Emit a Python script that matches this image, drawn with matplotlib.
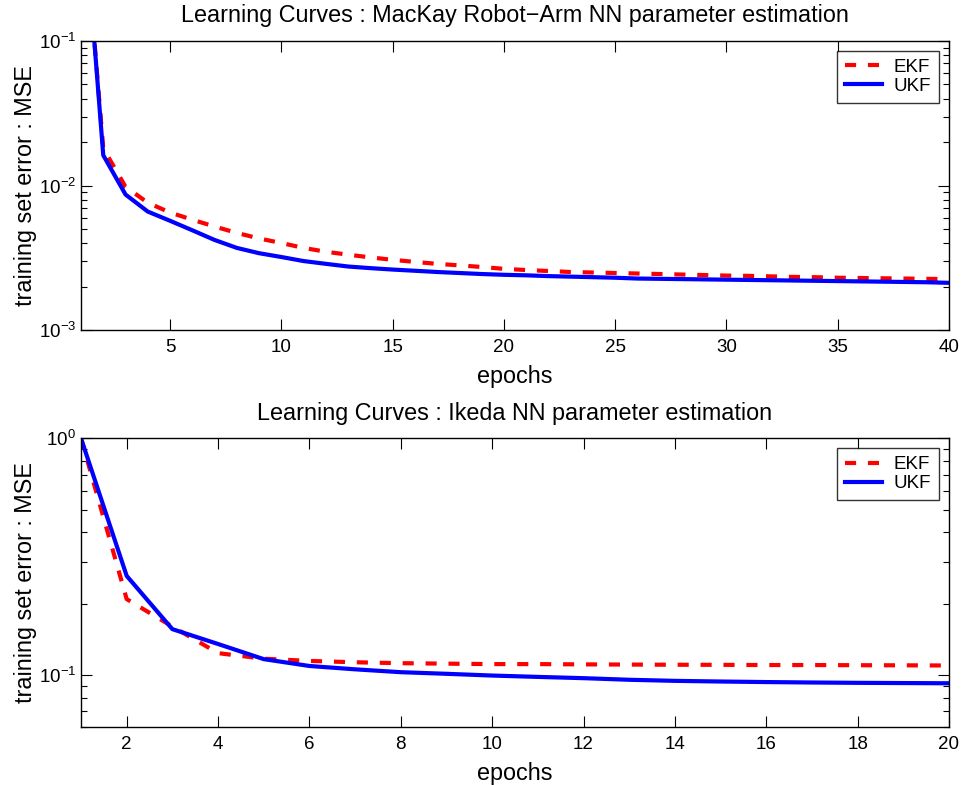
import matplotlib
matplotlib.use("Agg")
import matplotlib.pyplot as plt
from matplotlib.ticker import LogLocator, FixedLocator, NullFormatter

plt.rcParams['font.family'] = ['Liberation Sans', 'DejaVu Sans']
plt.rcParams['mathtext.fontset'] = 'custom'
plt.rcParams['mathtext.rm'] = 'Liberation Sans'
plt.rcParams['mathtext.it'] = 'Liberation Sans'
plt.rcParams['lines.scale_dashes'] = False

# MacKay robot-arm: training set MSE per epoch
epochs_arm = list(range(1, 41))
ekf_arm = [1.3, 0.0181, 0.0098, 0.0076, 0.0065, 0.0058, 0.0052, 0.0047, 0.0043, 0.0040,
           0.0037, 0.00348, 0.00332, 0.00318, 0.00306, 0.00296, 0.00287, 0.0028, 0.00273, 0.00265,
           0.0026, 0.00256, 0.00252, 0.0025, 0.00248, 0.00246, 0.00244, 0.00242, 0.0024, 0.00238,
           0.00237, 0.00235, 0.00233, 0.00232, 0.0023, 0.00229, 0.00228, 0.00227, 0.00226, 0.00225]
ukf_arm = [1.5, 0.0162, 0.00866, 0.0066, 0.0057, 0.0049, 0.0042, 0.0037, 0.0034, 0.0032,
           0.0030, 0.00287, 0.00275, 0.00268, 0.00262, 0.00257, 0.00252, 0.00248, 0.00244, 0.00241,
           0.00239, 0.00236, 0.00234, 0.00232, 0.0023, 0.00227, 0.00226, 0.00225, 0.00224, 0.00223,
           0.00222, 0.00221, 0.0022, 0.00219, 0.00218, 0.00217, 0.00216, 0.00215, 0.00214, 0.00212]

# Ikeda map: training set MSE per epoch
epochs_ikeda = list(range(1, 21))
ekf_ikeda = [1.0, 0.209, 0.16, 0.1235, 0.117, 0.1145, 0.113, 0.112, 0.1115, 0.111,
             0.111, 0.1107, 0.1105, 0.1103, 0.1102, 0.110, 0.110, 0.1098, 0.1097, 0.1095]
ukf_ikeda = [1.0, 0.262, 0.156, 0.135, 0.1165, 0.109, 0.1055, 0.1026, 0.101, 0.0993,
             0.098, 0.0968, 0.0953, 0.0943, 0.0937, 0.0932, 0.0928, 0.0925, 0.0923, 0.0921]

titles = ["Learning Curves : MacKay Robot\u2212Arm NN parameter estimation",
          "Learning Curves : Ikeda NN parameter estimation"]
xlabel = "epochs"
ylabel = "training set error : MSE"
series_names = ["EKF", "UKF"]

TICK_FS = 13.5
LABEL_FS = 16.8
LEG_FS = 13.5
W, H = 965, 785
fig = plt.figure(figsize=(W / 100, H / 100), dpi=100)


def px_axes(left, top, right, bottom):
    return fig.add_axes([left / W, 1 - bottom / H, (right - left) / W, (bottom - top) / H])


ax1 = px_axes(81, 41, 949, 330)
ax2 = px_axes(81, 438.3, 949, 727.3)

panels = [
    (ax1, epochs_arm, ekf_arm, ukf_arm, (1, 40), (1e-3, 1e-1), [5, 10, 15, 20, 25, 30, 35, 40]),
    (ax2, epochs_ikeda, ekf_ikeda, ukf_ikeda, (1, 20), (0.06, 1.0), [2, 4, 6, 8, 10, 12, 14, 16, 18, 20]),
]

for i, (ax, ep, ekf, ukf, xl, yl, xt) in enumerate(panels):
    ax.plot(ep, ekf, color='#ff0000', lw=3.0, linestyle='--', dashes=(8, 8.5), label=series_names[0])
    ax.plot(ep, ukf, color='#0000ff', lw=3.0, linestyle='-', label=series_names[1])
    ax.set_yscale('log')
    ax.set_xlim(*xl)
    ax.set_ylim(*yl)
    ax.xaxis.set_major_locator(FixedLocator(xt))
    ax.yaxis.set_major_locator(LogLocator(base=10, numticks=10))
    ax.yaxis.set_minor_locator(LogLocator(base=10, subs=range(2, 10), numticks=20))
    ax.yaxis.set_minor_formatter(NullFormatter())
    ax.tick_params(which='both', direction='in', top=True, right=True, labelsize=TICK_FS, width=0.8)
    ax.tick_params(which='major', length=8)
    ax.tick_params(which='minor', length=4.5)
    ax.tick_params(axis='x', which='major', pad=6.5)
    ax.tick_params(axis='y', which='major', pad=3.5)
    for s in ax.spines.values():
        s.set_linewidth(1.0)
    ax.set_title(titles[i], fontsize=LABEL_FS, pad=13.5)
    ax.set_xlabel(xlabel, fontsize=LABEL_FS, labelpad=6.5)
    ax.set_ylabel(ylabel, fontsize=LABEL_FS, labelpad=1)
    leg = ax.legend(loc='upper right', bbox_to_anchor=(1 - 10 / 868, 1 - 10 / 289), borderaxespad=0,
                    fontsize=LEG_FS, frameon=True, fancybox=False, handlelength=2.0, handletextpad=0.6,
                    borderpad=0.42, labelspacing=0.1)
    leg.get_frame().set_edgecolor('black')
    leg.get_frame().set_linewidth(1.0)

fig.savefig("out.png", dpi=100)
